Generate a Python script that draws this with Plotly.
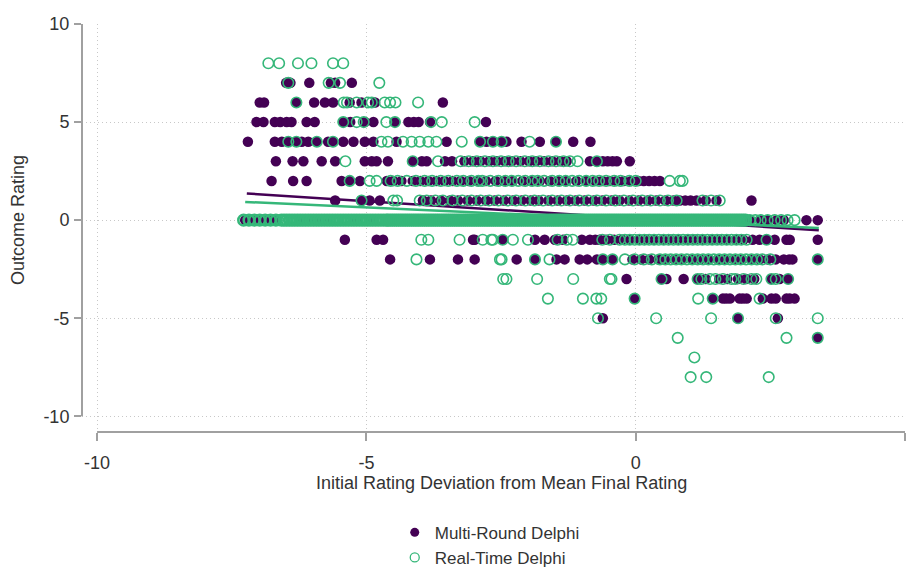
import plotly.graph_objects as go

# ---------------- data ----------------
# Multi-Round Delphi: x positions at each outcome rating level
mr_y7 = [-6.49, -6.41, -6.06, -5.66, -5.58, -5.27]
mr_y6 = [-6.98, -6.90, -6.30, -5.97, -5.77, -5.62, -5.31, -5.09, -4.84, -3.58]
mr_y5 = [-7.04, -6.91, -6.70, -6.60, -6.48, -6.39, -6.11, -5.96, -5.43, -5.30, -5.03,
         -4.87, -4.47, -4.22, -4.12, -4.03, -3.82, -2.78]
mr_y4 = [-7.20, -6.70, -6.57, -6.45, -6.30, -6.20, -6.08, -5.92, -5.71, -5.62, -5.43,
         -5.24, -5.03, -4.87, -4.44, -3.51, -2.89, -2.77, -2.65, -2.49, -2.40, -2.12,
         -1.78, -1.48, -1.16, -0.84]
mr_y3 = [-6.68, -6.37, -6.17, -5.83, -5.58, -5.03, -4.90, -4.81, -4.60, -4.14, -3.97,
         -3.88, -3.54, -3.41, -3.18, -3.02, -2.88, -2.72, -2.58, -2.43, -2.30, -2.14,
         -1.98, -1.85, -1.70, -1.55, -1.40, -1.28, -0.85, -0.72, -0.61, -0.52, -0.43,
         -0.35, -0.11]
mr_y2 = [-6.76, -6.36, -6.11, -5.46, -5.31, -5.12, -4.62, -4.50, -4.35, -4.14, -4.00,
         -3.85, -3.70, -3.55, -3.40, -3.25, -3.10, -2.95, -2.78, -2.60, -2.45, -2.28,
         -2.10, -1.95, -1.78, -1.60, -1.45, -1.28, -1.10, -0.92, -0.75, -0.62, -0.48,
         -0.35, -0.22, -0.08, 0.05, 0.15, 0.25, 0.35, 0.45]
mr_y1 = [-5.58, -5.09, -4.94, -4.75, -3.95, -3.80, -3.62, -3.45, -3.30, -3.12, -2.95,
         -2.78, -2.62, -2.45, -2.28, -2.12, -1.95, -1.80, -1.62, -1.45, -1.28, -1.12,
         -0.95, -0.78, -0.62, -0.45, -0.30, -0.12, 0.05, 0.22, 0.38, 0.55, 0.70, 0.82,
         0.92, 1.02, 1.13, 1.30, 1.50, 2.15]
mr_y0 = [-7.25, -7.16, -7.06, -6.95, -6.85, -6.76, -6.66, -6.20, -6.03, -5.85, -5.72,
         -5.20, -4.90, -4.45, -4.00, -3.20, -2.40, -1.50, -0.80, 0.10, 1.00, 1.80,
         2.12, 2.30, 2.45, 2.62, 2.75, 3.17, 3.38]
mr_ym1 = [-5.40, -4.81, -4.69, -3.02, -2.99, -2.47, -1.87, -1.69, -1.50, -1.35, -1.00,
          -0.85, -0.75, -0.67, -0.55, -0.40, -0.25, -0.10, 0.05, 0.20, 0.35, 0.50,
          0.65, 0.80, 0.95, 1.10, 1.25, 1.40, 1.55, 1.70, 1.85, 2.00, 2.17, 2.30,
          2.43, 2.58, 2.80, 2.86, 3.38]
mr_ym2 = [-4.56, -3.82, -3.30, -2.99, -2.21, -1.87, -1.47, -1.32, -1.04, -0.90, -0.72,
          -0.61, -0.43, -0.06, 0.10, 0.25, 0.42, 0.58, 0.72, 0.88, 1.05, 1.20, 1.35,
          1.52, 1.68, 1.82, 1.98, 2.15, 2.30, 2.45, 2.60, 2.75, 2.85, 2.91, 3.38]
mr_ym3 = [-0.17, 0.48, 0.57, 0.89, 1.15, 1.30, 1.55, 1.70, 1.90, 2.05, 2.20, 2.52,
          2.67, 2.83]
mr_ym4 = [-0.02, 1.43, 1.62, 1.68, 1.75, 1.93, 1.99, 2.06, 2.36, 2.52, 2.60, 2.80,
          2.86, 2.95]
mr_ym5 = [-0.61, 1.90, 2.64]
mr_ym6 = [3.38]

# Real-Time Delphi
rt_y8 = [-6.82, -6.62, -6.27, -6.02, -5.62, -5.43]
rt_y7 = [-6.45, -5.70, -5.49, -4.76]
rt_y6 = [-6.30, -5.42, -5.36, -5.18, -4.97, -4.90, -4.66, -4.56, -4.46, -4.04]
rt_y5 = [-5.43, -5.18, -5.05, -4.63, -4.47, -3.80, -3.60, -2.99]
rt_y4 = [-6.45, -6.30, -5.92, -5.62, -4.72, -4.60, -4.32, -4.16, -4.01, -3.85, -3.70,
         -3.23, -2.89, -2.65, -2.49, -1.97, -1.48]
rt_y3 = [-5.39, -4.14, -3.67, -3.25, -3.10, -2.95, -2.80, -2.65, -2.50, -2.36, -2.22,
         -2.06, -1.92, -1.78, -1.62, -1.48, -1.34, -1.22, -1.08, -0.72]
rt_y2 = [-5.31, -4.94, -4.81, -4.55, -4.42, -4.25, -4.08, -3.92, -3.78, -3.62, -3.48,
         -3.32, -3.20, -3.05, -2.92, -2.85, -2.70, -2.55, -2.42, -2.30, -2.18, -2.05,
         -1.92, -1.82, -1.70, -1.55, -1.42, -1.30, -1.18, -1.05, -0.92, -0.80, -0.68,
         -0.55, -0.40, -0.28, -0.12, 0.00, 0.63, 0.82, 0.87]
rt_y1 = [-5.09, -4.50, -4.43, -4.01, -3.88, -3.72, -3.58, -3.40, -3.22, -3.05, -2.88,
         -2.72, -2.55, -2.38, -2.22, -2.05, -1.88, -1.72, -1.55, -1.38, -1.22, -1.05,
         -0.88, -0.72, -0.55, -0.38, -0.22, -0.05, 0.12, 0.28, 0.45, 0.60, 0.76, 1.24,
         1.40, 1.56]
rt_y0 = [-7.28, -7.18, -7.08, -6.98, -6.88, -6.78, -6.68,
         -6.58, -6.53, -6.48, -6.43, -6.38, -6.33, -6.28, -6.23,
         -6.18, -6.13, -6.08, -6.03, -5.98, -5.93, -5.88, -5.83, -5.78, -5.73, -5.68,
         -5.63, -5.58, -5.53, -5.48, -5.43, -5.38, -5.33, -5.28, -5.23, -5.18, -5.13,
         -5.08, -5.03, -4.98, -4.93, -4.88, -4.83, -4.78, -4.73, -4.68, -4.63,
         -4.60, -4.56, -4.52, -4.48, -4.44, -4.40, -4.36, -4.32, -4.28, -4.24, -4.20,
         -4.16, -4.12, -4.08, -4.04, -4.00, -3.96, -3.92, -3.88, -3.84, -3.80, -3.76,
         -3.72, -3.68, -3.64, -3.60, -3.56, -3.52, -3.48, -3.44, -3.40, -3.36, -3.32,
         -3.28, -3.24, -3.20, -3.16, -3.12, -3.08, -3.04, -3.00, -2.96, -2.92, -2.88,
         -2.84, -2.80, -2.76, -2.72, -2.68, -2.64, -2.60, -2.56, -2.52, -2.48, -2.44,
         -2.40, -2.36, -2.32, -2.28, -2.24, -2.20, -2.16, -2.12, -2.08, -2.04, -2.00,
         -1.96, -1.92, -1.88, -1.84, -1.80, -1.76, -1.72, -1.68, -1.64, -1.60, -1.56,
         -1.52, -1.48, -1.44, -1.40, -1.36, -1.32, -1.28, -1.24, -1.20, -1.16, -1.12,
         -1.08, -1.04, -1.00, -0.96, -0.92, -0.88, -0.84, -0.80, -0.76, -0.72, -0.68,
         -0.64, -0.60, -0.56, -0.52, -0.48, -0.44, -0.40, -0.36, -0.32, -0.28, -0.24,
         -0.20, -0.16, -0.12, -0.08, -0.04, 0.00, 0.04, 0.08, 0.12, 0.16, 0.20, 0.24,
         0.28, 0.32, 0.36, 0.40, 0.44, 0.48, 0.52, 0.56, 0.60, 0.64, 0.68, 0.72, 0.76,
         0.80, 0.84, 0.88, 0.92, 0.96, 1.00, 1.04, 1.08, 1.12, 1.16, 1.20, 1.24, 1.28,
         1.32, 1.36, 1.40, 1.44, 1.48, 1.52, 1.56, 1.60, 1.64, 1.68, 1.72, 1.76, 1.80,
         1.84, 1.88, 1.92, 1.96, 2.00, 2.04]
rt_y0_sparse = [2.12, 2.22, 2.32, 2.45, 2.58, 2.70, 2.82, 2.95]
rt_ym1 = [-3.98, -3.85, -3.27, -2.84, -2.68, -2.65, -2.47, -2.28, -2.00, -1.45, -1.28,
          -1.17, -0.62, -0.48, -0.30, -0.20, -0.11, -0.02, 0.07, 0.16, 0.25, 0.34,
          0.43, 0.52, 0.61, 0.70, 0.79, 0.88, 0.97, 1.06, 1.15, 1.24, 1.33, 1.42,
          1.51, 1.60, 1.69, 1.78, 1.87, 1.96, 2.06, 2.43]
rt_ym2 = [-4.07, -2.52, -2.49, -1.87, -1.60, -0.61, -0.43, -0.20, -0.02, 0.15, 0.30,
          0.45, 0.55, 0.65, 0.75, 0.85, 0.95, 1.05, 1.15, 1.25, 1.35, 1.45, 1.55,
          1.65, 1.75, 1.85, 1.95, 2.05, 2.15, 2.25, 2.35, 2.50, 3.38]
rt_ym3 = [-2.46, -2.40, -1.83, -1.16, -0.48, -0.45, 0.48, 1.15, 1.22, 1.38, 1.48,
          1.62, 1.78, 1.85, 2.00, 2.15, 2.24, 2.52, 2.60, 2.83]
rt_ym4 = [-1.63, -0.98, -0.73, -0.64, -0.02, 1.16, 1.43, 2.30]
rt_ym5 = [-0.70, 0.38, 1.40, 1.90, 2.60, 3.38]
rt_ym6 = [0.78, 2.80, 3.38]
rt_ym7 = [1.09]
rt_ym8 = [1.02, 1.31, 2.47]

# Linear fit lines (end points)
mr_fit_x = [-7.22, 3.40]
mr_fit_y = [1.36, -0.52]
rt_fit_x = [-7.25, 3.40]
rt_fit_y = [0.93, -0.40]

x_ticks = [-10, -5, 0, 5]
y_ticks = [-10, -5, 0, 5, 10]

series_names = ["Multi-Round Delphi", "Real-Time Delphi"]
x_title = "Initial Rating Deviation from Mean Final Rating"
y_title = "Outcome Rating"

# ---------------- build ----------------
def stack(rows):
    xs, ys = [], []
    for level, vals in rows:
        xs += vals
        ys += [level] * len(vals)
    return xs, ys

mr_x, mr_y = stack([(7, mr_y7), (6, mr_y6), (5, mr_y5), (4, mr_y4), (3, mr_y3),
                    (2, mr_y2), (1, mr_y1), (0, mr_y0), (-1, mr_ym1), (-2, mr_ym2),
                    (-3, mr_ym3), (-4, mr_ym4), (-5, mr_ym5), (-6, mr_ym6)])
rt_x, rt_y = stack([(8, rt_y8), (7, rt_y7), (6, rt_y6), (5, rt_y5), (4, rt_y4),
                    (3, rt_y3), (2, rt_y2), (1, rt_y1), (0, rt_y0_sparse),
                    (-1, rt_ym1), (-2, rt_ym2), (-3, rt_ym3), (-4, rt_ym4),
                    (-5, rt_ym5), (-6, rt_ym6), (-7, rt_ym7), (-8, rt_ym8)])
rt0_x, rt0_y = stack([(0, rt_y0)])

PURPLE = "#440154"
GREEN = "#35b779"
FONT = "Liberation Sans, Arial, sans-serif"
TXT = "#333333"
AXC = "#a0a0a0"
FS = 18

fig = go.Figure()
fig.add_trace(go.Scatter(x=mr_x, y=mr_y, mode="markers", showlegend=False,
                         marker=dict(symbol="circle", size=10.5, color=PURPLE,
                                     line=dict(width=0))))
fig.add_trace(go.Scatter(x=mr_fit_x, y=mr_fit_y, mode="lines", showlegend=False,
                         line=dict(color=PURPLE, width=2.5)))
fig.add_trace(go.Scatter(x=rt_x, y=rt_y, mode="markers", showlegend=False,
                         marker=dict(symbol="circle-open", size=10.5, color=GREEN,
                                     line=dict(width=1.6, color=GREEN))))
fig.add_trace(go.Scatter(x=rt0_x, y=rt0_y, mode="markers", showlegend=False,
                         marker=dict(symbol="circle-open", size=10.5, color=GREEN,
                                     line=dict(width=2.6, color=GREEN))))
fig.add_trace(go.Scatter(x=rt_fit_x, y=rt_fit_y, mode="lines", showlegend=False,
                         line=dict(color=GREEN, width=2.5)))

# legend entries
fig.add_trace(go.Scatter(x=[None], y=[None], mode="markers", name=series_names[0],
                         marker=dict(symbol="circle", size=9, color=PURPLE)))
fig.add_trace(go.Scatter(x=[None], y=[None], mode="markers", name=series_names[1],
                         marker=dict(symbol="circle-open", size=9, color=GREEN,
                                     line=dict(width=1.3, color=GREEN))))

fig.update_layout(
    width=907, height=567,
    margin=dict(l=82, r=2, t=24, b=135, autoexpand=False),
    paper_bgcolor="white", plot_bgcolor="white",
    font=dict(family=FONT, size=FS, color=TXT),
    showlegend=True,
    legend=dict(orientation="v", x=0.38, xanchor="left", y=-0.203, yanchor="top",
                font=dict(family=FONT, size=17, color=TXT),
                bgcolor="rgba(0,0,0,0)", itemwidth=30, tracegroupgap=0),
    xaxis=dict(range=[-10.28, 5.0], tickvals=x_ticks,
               ticktext=[str(v) for v in x_ticks],
               showline=False, zeroline=False, automargin=False,
               showgrid=True, gridcolor="#c8c8c8", griddash="1px,3px", gridwidth=1,
               ticks="outside", ticklen=8, tickwidth=2, tickcolor=AXC,
               ticklabelstandoff=6,
               tickfont=dict(family=FONT, size=FS, color=TXT)),
    yaxis=dict(range=[-10.8, 10.0], tickvals=y_ticks,
               ticktext=[str(v) for v in y_ticks],
               showline=False, zeroline=False, automargin=False,
               showgrid=True, gridcolor="#c8c8c8", griddash="1px,3px", gridwidth=1,
               ticks="outside", ticklen=7, tickwidth=2, tickcolor=AXC,
               ticklabelstandoff=1,
               tickfont=dict(family=FONT, size=FS, color=TXT)),
    shapes=[
        dict(type="line", xref="x", yref="paper", x0=-10, x1=5, y0=0, y1=0,
             line=dict(color=AXC, width=2)),
        dict(type="line", xref="paper", yref="y", x0=0, x1=0, y0=-10, y1=10,
             line=dict(color=AXC, width=2)),
    ],
    annotations=[
        dict(text=x_title, xref="x", yref="paper", x=-2.5, y=-0.125,
             xanchor="center", yanchor="middle", showarrow=False,
             font=dict(family=FONT, size=FS, color=TXT)),
        dict(text=y_title, xref="paper", yref="y", x=-0.078, y=0, textangle=-90,
             xanchor="center", yanchor="middle", showarrow=False,
             font=dict(family=FONT, size=FS, color=TXT)),
    ],
)

# remove the browser's default 8px page margin so the figure fills the window
fig.write_html("out.html",
               config={"displayModeBar": False},
               post_script="document.body.style.margin='0';"
                           "document.body.style.overflow='hidden';")
